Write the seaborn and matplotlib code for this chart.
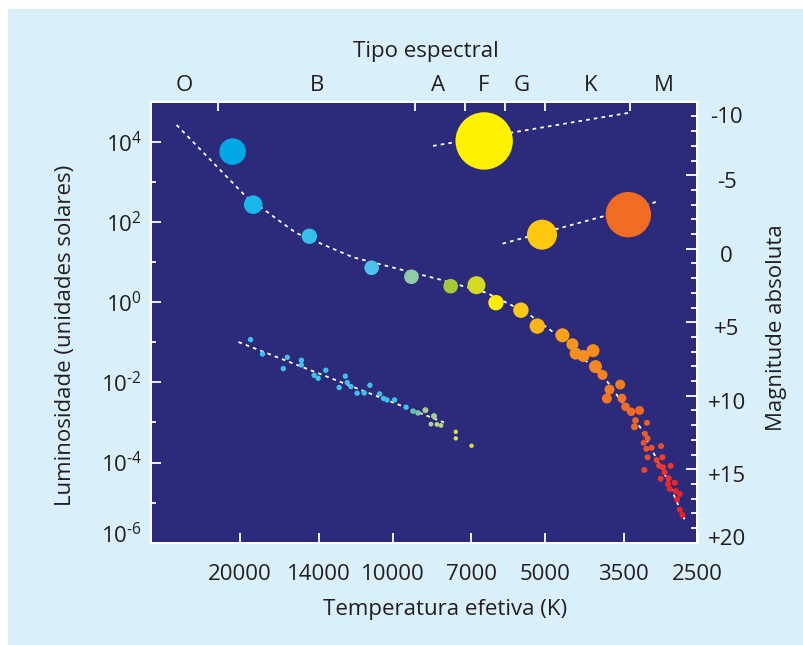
import numpy as np
import pandas as pd
import matplotlib
matplotlib.use("Agg")
import matplotlib.pyplot as plt
import seaborn as sns
from matplotlib.ticker import FixedLocator, FixedFormatter, NullLocator, NullFormatter, MultipleLocator
from matplotlib.transforms import ScaledTranslation
from matplotlib.patches import Rectangle

# ---------------- data ----------------
# Main sequence stars: effective temperature (K), luminosity (L_sun)
ms_temp = [20700, 18850, 14600, 11000, 9180, 7680, 6830, 6250, 5580, 5180,
           4620, 4415, 4350, 4200, 4020, 3975, 3850, 3553, 3730, 3775,
           3525, 3467, 3380, 3253, 3314, 3146, 3330, 3175, 3137, 3194,
           3080, 3155, 2950, 3137, 2933, 3010, 2977, 2924, 2825, 3184,
           2903, 2850, 2956, 2773, 2858, 2838, 2761, 2710, 2743, 2710, 2678]
ms_lum = [5700, 270, 44, 7.2, 4.3, 2.5, 2.65, 0.97, 0.63, 0.253,
          0.149, 0.089, 0.052, 0.0454, 0.0618, 0.0247, 0.0153, 0.0088, 0.0066, 0.00395,
          0.0040, 0.00244, 0.00184, 0.00199, 0.00112, 0.00098, 0.00078, 0.00052, 0.00040, 0.00031,
          0.000233, 0.00022, 0.000257, 0.000135, 0.000135, 0.000115, 8.3e-5, 7.6e-5, 8.3e-5, 6.5e-5,
          5.7e-5, 4.05e-5, 3.95e-5, 3.15e-5, 2.9e-5, 2.2e-5, 1.95e-5, 1.64e-5, 1.2e-5, 6.7e-6, 4.9e-6]
ms_diam_px = [26.6, 18.6, 15.4, 14.6, 14.6, 14.6, 18.0, 15.4, 15.4, 15.4,
              14.0, 12.0, 12.0, 12.0, 13.0, 13.0, 10.0, 10.0, 10.0, 10.0,
              9.0, 8.6, 8.6, 9.0, 6.6, 6.0, 7.0, 6.0, 6.0, 6.0,
              6.0, 6.0, 6.0, 6.0, 6.0, 6.0, 6.0, 6.0, 6.0, 6.0,
              6.0, 6.0, 6.0, 6.0, 6.0, 6.0, 6.0, 6.0, 6.0, 6.0, 6.0]
ms_color = ["#00a9e6", "#18b7ec", "#38c0ec", "#4cc3ec", "#8fcba3", "#a5c83a", "#d2da22", "#ffec00", "#fcc814", "#fbb417",
            "#f9a11b", "#f7951d", "#f7901e", "#f68f1f", "#f68e1f", "#f5871f", "#f58220", "#f47d20", "#f47b20", "#f37521",
            "#f37321", "#f26d21", "#f26a22", "#f26822", "#f16523", "#f16023", "#f16323", "#f15a24", "#f05a25", "#f05626",
            "#f05027", "#f05228", "#ef4b29", "#ef4a2a", "#ef432b", "#ef412c", "#ee3d2c", "#ee392c", "#ee342c", "#ef4530",
            "#ee312b", "#ed2e2a", "#ee302a", "#ed2a29", "#ed2a28", "#ed2728", "#ed2427", "#ed2227", "#ed2026", "#ed1e25", "#ed1c24"]

ms_line_temp = [26700, 19490, 15510, 11980, 8070, 6524, 5435, 4530, 3775, 3243, 2893, 2641]
ms_line_lum = [2.63e4, 433, 53.2, 13.2, 3.67, 1.71, 0.545, 0.101, 0.0108, 7.5e-4, 4.7e-5, 3.4e-6]

# Supergiant branch
sg_line_temp = [8320, 3404]
sg_line_lum = [7900, 53200]
sg_temp = [6595]
sg_lum = [10500]
sg_diam_px = [57.4]
sg_color = ["#fff200"]

# Giant branch
giant_line_temp = [6066, 2991]
giant_line_lum = [28.8, 325]
giant_temp = [5070, 3424]
giant_lum = [48.3, 152]
giant_diam_px = [30.0, 45.4]
giant_color = ["#fec80f", "#f26b22"]

# White dwarfs
wd_line_temp = [20150, 7915]
wd_line_lum = [0.101, 0.001]
wd_temp = [19080, 18070, 16140, 16440, 15140, 15140, 14290, 14030, 13550, 12400,
           12290, 12090, 12750, 11750, 11380, 11090, 10610, 10420, 10260, 9910,
           9410, 9115, 8910, 8615, 8285, 8400, 8175, 8025, 7503, 7503, 6985]
wd_lum = [0.116, 0.0509, 0.0421, 0.0220, 0.0355, 0.0271, 0.0150, 0.01265, 0.0200, 0.0142,
          0.00989, 0.00787, 0.00743, 0.00536, 0.00545, 0.00847, 0.00515, 0.00395, 0.00365, 0.00365,
          0.0024, 0.00191, 0.00173, 0.00202, 0.00144, 0.000907, 0.000891, 0.000842, 0.000583, 0.0004, 0.000262]
wd_diam_px = [5.4] * 21 + [5.6, 5.6, 6.0, 6.0, 4.8, 4.8, 4.8, 4.4, 4.4, 4.4]
wd_color = ["#3fc1ee"] * 21 + ["#5ec4b4", "#7fc8a0", "#a8d08d", "#a3cf89", "#b3d48a", "#b3d48a", "#b3d48a",
                               "#d9e04b", "#d9e04b", "#d9e04b"]

# Axes
temp_ticks = [20000, 14000, 10000, 7000, 5000, 3500, 2500]
temp_labels = ["20000", "14000", "10000", "7000", "5000", "3500", "2500"]
lum_major_exp = [-6, -4, -2, 0, 2, 4]
lum_minor_exp = [-5, -3, -1, 1, 3]
mag_ticks = [-10, -5, 0, 5, 10, 15, 20]
mag_labels = ["-10", "-5", "0", "+5", "+10", "+15", "+20"]
spec_labels = ["O", "B", "A", "F", "G", "K", "M"]
spec_label_temp = [25800, 14070, 8140, 6600, 5555, 4070, 2920]
spec_bounds = [22100, 9040, 7190, 6000, 5000, 3400]

# ---------------- style ----------------
NAVY = "#2b2a7b"
LIGHT = "#d9f0fb"
TEXT = "#231f20"

sns.set_style("white")
plt.rcParams['font.family'] = ['Open Sans', 'DejaVu Sans']
plt.rcParams['mathtext.fontset'] = 'custom'
plt.rcParams['mathtext.rm'] = 'Open Sans'
plt.rcParams['mathtext.it'] = 'Open Sans:italic'
plt.rcParams['mathtext.bf'] = 'Open Sans:bold'
plt.rcParams['mathtext.default'] = 'regular'

FS = 16

fig = plt.figure(figsize=(8.04, 6.45), dpi=100, facecolor="white")
fig.patches.append(Rectangle((8 / 804, 0), 1, (645 - 9) / 645, transform=fig.transFigure,
                             facecolor=LIGHT, edgecolor="none", zorder=-10))

ax = fig.add_axes([151 / 804, 1 - 542.7 / 645, 546.5 / 804, 441 / 645])
ax.set_facecolor(NAVY)
ax.set_xscale("log")
ax.set_yscale("log")
ax.set_xlim(30000, 2500)
ax.set_ylim(1e-6, 1e5)

dash = (0, (2.0, 2.3))
for lt, ll in [(ms_line_temp, ms_line_lum), (sg_line_temp, sg_line_lum),
               (giant_line_temp, giant_line_lum), (wd_line_temp, wd_line_lum)]:
    sns.lineplot(x=lt, y=ll, sort=False, estimator=None, color="white",
                 linewidth=1.3, linestyle=dash, ax=ax, zorder=2)


def px_to_s(d):
    return [(v * 0.72) ** 2 for v in d]


for tt, ll, dd, cc in [(ms_temp, ms_lum, ms_diam_px, ms_color),
                       (sg_temp, sg_lum, sg_diam_px, sg_color),
                       (giant_temp, giant_lum, giant_diam_px, giant_color),
                       (wd_temp, wd_lum, wd_diam_px, wd_color)]:
    sns.scatterplot(x=tt, y=ll, s=px_to_s(dd), c=cc, linewidth=0, edgecolor="none",
                    ax=ax, zorder=3, legend=False)


def pow_label(e):
    if e < 0:
        return r"$10^{\text{-}%d}$" % (-e)
    return r"$10^{%d}$" % e


# bottom axis
ax.xaxis.set_major_locator(FixedLocator(temp_ticks))
ax.xaxis.set_major_formatter(FixedFormatter(temp_labels))
ax.xaxis.set_minor_locator(NullLocator())
ax.tick_params(axis="x", which="major", direction="in", length=7, width=1.3, color="white",
               labelsize=FS, labelcolor=TEXT, pad=15)
# left axis
ax.yaxis.set_major_locator(FixedLocator([10.0 ** e for e in lum_major_exp]))
ax.yaxis.set_major_formatter(FixedFormatter([pow_label(e) for e in lum_major_exp]))
ax.yaxis.set_minor_locator(FixedLocator([10.0 ** e for e in lum_minor_exp]))
ax.yaxis.set_minor_formatter(NullFormatter())
ax.tick_params(axis="y", which="major", direction="in", length=7, width=1.3, color="white",
               labelsize=FS, labelcolor=TEXT, pad=6.5)
ax.tick_params(axis="y", which="minor", direction="in", length=3.6, width=1.3, color="white")
ax.set_xlabel("Temperatura efetiva (K)", fontsize=FS, color=TEXT)
ax.xaxis.set_label_coords(0.5376, -0.1287)
ax.set_ylabel("Luminosidade (unidades solares)", fontsize=FS, color=TEXT)
ax.yaxis.set_label_coords(-0.1376, 0.4695)

# top axis: spectral type
ax_t = ax.twiny()
ax_t.set_xscale("log")
ax_t.set_xlim(30000, 2500)
ax_t.xaxis.set_major_locator(FixedLocator(spec_bounds))
ax_t.xaxis.set_major_formatter(NullFormatter())
ax_t.xaxis.set_minor_locator(FixedLocator(spec_label_temp))
ax_t.xaxis.set_minor_formatter(FixedFormatter(spec_labels))
ax_t.tick_params(axis="x", which="major", direction="in", length=6.5, width=1.3, color="white")
ax_t.tick_params(axis="x", which="minor", length=0, labelsize=FS, labelcolor=TEXT, pad=4)
ax_t.set_xlabel("Tipo espectral", fontsize=FS, color=TEXT)
ax_t.xaxis.set_label_coords(0.5028, 1.1016)

# right axis: absolute magnitude
ax_r = ax.twinx()
ax_r.set_ylim(20, -10)
ax_r.yaxis.set_major_locator(FixedLocator(mag_ticks))
ax_r.yaxis.set_major_formatter(FixedFormatter(mag_labels))
ax_r.yaxis.set_minor_locator(MultipleLocator(1))
ax_r.tick_params(axis="y", which="major", direction="in", length=8, width=1.3, color="white",
                 labelsize=FS, labelcolor=TEXT, pad=21)
ax_r.tick_params(axis="y", which="minor", direction="in", length=4.5, width=1.3, color="white")
ax_r.set_ylabel("Magnitude absoluta", fontsize=FS, color=TEXT)
ax_r.yaxis.set_label_coords(1.1248, 0.4876)

for a in (ax, ax_t, ax_r):
    for sp in a.spines.values():
        sp.set_color("white")
        sp.set_linewidth(1.3)

# label nudges (pixels, positive = down), as in the reference artwork
right_nudge = [13, 5, 5, 5, 5, 5, -6]
for lab, dy in zip(ax_r.get_yticklabels(), right_nudge):
    lab.set_horizontalalignment("center")
    lab.set_transform(lab.get_transform() + ScaledTranslation(0, -dy / 100, fig.dpi_scale_trans))
left_labels = ax.get_yticklabels()
left_labels[0].set_transform(left_labels[0].get_transform() +
                             ScaledTranslation(0, 10 / 100, fig.dpi_scale_trans))

fig.savefig("out.png", dpi=100, facecolor=fig.get_facecolor())
